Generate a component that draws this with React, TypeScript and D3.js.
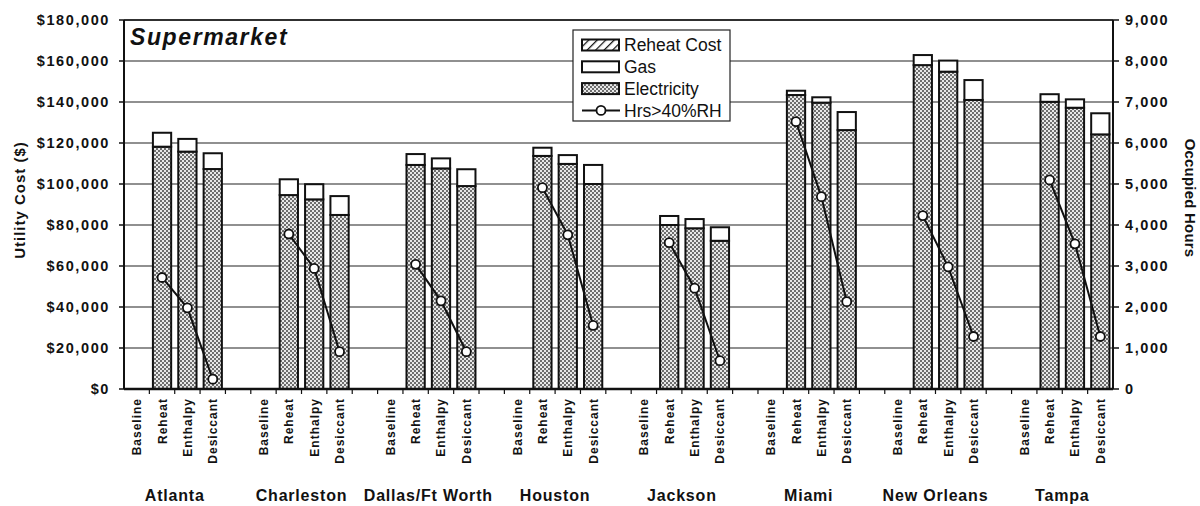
import React from "react";
import * as d3 from "d3";

// Annual utility cost per humidity-control strategy, supermarket building
const cities = ["Atlanta", "Charleston", "Dallas/Ft Worth", "Houston", "Jackson", "Miami", "New Orleans", "Tampa"];
const methods = ["Baseline", "Reheat", "Enthalpy", "Desiccant"];

// [Baseline, Reheat, Enthalpy, Desiccant] per city, dollars
const electricity = [
  [0, 118200, 115800, 107300],
  [0, 94600, 92500, 84900],
  [0, 109300, 107600, 99000],
  [0, 113700, 109800, 100000],
  [0, 80000, 78400, 72300],
  [0, 143400, 139700, 126300],
  [0, 158000, 154800, 141000],
  [0, 140100, 137200, 124200],
];
const reheatCost = [
  [0, 0, 0, 0],
  [0, 0, 0, 0],
  [0, 0, 0, 0],
  [0, 0, 0, 0],
  [0, 0, 0, 0],
  [0, 0, 0, 0],
  [0, 0, 0, 0],
  [0, 0, 0, 0],
];
const gas = [
  [0, 6800, 6200, 7700],
  [0, 7700, 7400, 9200],
  [0, 5300, 4900, 8200],
  [0, 4000, 4300, 9300],
  [0, 4400, 4500, 6600],
  [0, 2100, 2600, 8800],
  [0, 4900, 5400, 9700],
  [0, 3700, 4100, 10300],
];
// occupied hours above 40% relative humidity
const hoursOver40 = [
  [null, 2720, 1980, 240],
  [null, 3780, 2940, 910],
  [null, 3040, 2150, 910],
  [null, 4910, 3760, 1550],
  [null, 3570, 2460, 690],
  [null, 6520, 4690, 2130],
  [null, 4230, 2980, 1280],
  [null, 5100, 3540, 1280],
];

const costTicks = [0, 20000, 40000, 60000, 80000, 100000, 120000, 140000, 160000, 180000];
const hourTicks = [0, 1000, 2000, 3000, 4000, 5000, 6000, 7000, 8000, 9000];

const FONT = "'Liberation Sans', Arial, sans-serif";

export default function App() {
  const W = 1200;
  const H = 506;
  const left = 124;
  const right = 1113;
  const top = 20;
  const bottom = 389;

  // one slot per strategy, with an empty slot between cities
  const slots: string[] = [];
  cities.forEach((c, i) => {
    methods.forEach((m) => slots.push(`${c}|${m}`));
    if (i < cities.length - 1) slots.push(`gap${i}`);
  });

  const x = d3.scaleBand<string>().domain(slots).range([left, right]).paddingInner(0.28).paddingOuter(0.14);
  const step = x.step();
  const slotLeft = (k: string) => (x(k) as number) - step * 0.14;
  const center = (k: string) => (x(k) as number) + x.bandwidth() / 2;

  const y = d3.scaleLinear().domain([0, 180000]).range([bottom, top]);
  const y2 = d3.scaleLinear().domain([0, 9000]).range([bottom, top]);

  const fmtCost = (v: number) => "$" + d3.format(",")(v);
  const fmtHour = d3.format(",");

  type Bar = { key: string; elec: number; reheat: number; gas: number };
  const bars: Bar[] = [];
  const points: { key: string; v: number | null }[] = [];
  cities.forEach((c, i) => {
    methods.forEach((m, j) => {
      const key = `${c}|${m}`;
      bars.push({ key, elec: electricity[i][j], reheat: reheatCost[i][j], gas: gas[i][j] });
      points.push({ key, v: hoursOver40[i][j] });
    });
    if (i < cities.length - 1) points.push({ key: `gap${i}`, v: null });
  });

  const line = d3
    .line<{ key: string; v: number | null }>()
    .defined((d) => d.v !== null)
    .x((d) => center(d.key))
    .y((d) => y2(d.v as number));

  const legendX = 573;
  const legendY = 30;
  const legendItems = ["Reheat Cost", "Gas", "Electricity", "Hrs>40%RH"];

  return (
    <svg width={W} height={H} style={{ display: "block", position: "absolute", left: 0, top: 0, background: "#fff" }}>
      <defs>
        <pattern id="dots" width="4" height="4" patternUnits="userSpaceOnUse">
          <rect width="4" height="4" fill="#e8e8e8" />
          <circle cx="1" cy="1" r="0.95" fill="#3a3a3a" />
          <circle cx="3" cy="3" r="0.95" fill="#3a3a3a" />
        </pattern>
        <pattern id="hatch" width="6" height="6" patternUnits="userSpaceOnUse" patternTransform="rotate(45)">
          <rect width="6" height="6" fill="#fff" />
          <line x1="0" y1="0" x2="0" y2="6" stroke="#111" strokeWidth="2.5" />
        </pattern>
      </defs>

      {/* gridlines */}
      {costTicks.map((t) => (
        <line key={`g${t}`} x1={left} x2={right} y1={y(t)} y2={y(t)} stroke="#222" strokeWidth={1.2} />
      ))}

      {/* stacked bars */}
      {bars
        .filter((b) => b.elec + b.reheat + b.gas > 0)
        .map((b) => {
          const bx = x(b.key) as number;
          const bw = x.bandwidth();
          const y0 = y(0);
          const yE = y(b.elec);
          const yR = y(b.elec + b.reheat);
          const yG = y(b.elec + b.reheat + b.gas);
          return (
            <g key={b.key}>
              <rect x={bx} y={yE} width={bw} height={y0 - yE} fill="url(#dots)" stroke="#111" strokeWidth={2} />
              {b.reheat > 0 && (
                <rect x={bx} y={yR} width={bw} height={yE - yR} fill="url(#hatch)" stroke="#111" strokeWidth={2} />
              )}
              <rect x={bx} y={yG} width={bw} height={yR - yG} fill="#fff" stroke="#111" strokeWidth={2} />
            </g>
          );
        })}

      {/* humidity hours line */}
      <path d={line(points) || ""} fill="none" stroke="#111" strokeWidth={2} />
      {points
        .filter((p) => p.v !== null)
        .map((p) => (
          <circle key={`c${p.key}`} cx={center(p.key)} cy={y2(p.v as number)} r={4.5} fill="#fff" stroke="#111" strokeWidth={1.8} />
        ))}

      {/* frame */}
      <line x1={left} x2={left} y1={top} y2={bottom} stroke="#111" strokeWidth={2} />
      <line x1={right} x2={right} y1={top} y2={bottom} stroke="#111" strokeWidth={2} />
      <line x1={left} x2={right} y1={bottom} y2={bottom} stroke="#111" strokeWidth={2.5} />
      <line x1={left} x2={right} y1={top} y2={top} stroke="#111" strokeWidth={1.5} />

      {/* left axis */}
      {costTicks.map((t) => (
        <g key={`l${t}`}>
          <line x1={left - 5} x2={left} y1={y(t)} y2={y(t)} stroke="#111" strokeWidth={1.5} />
          <text x={110} y={y(t)} dy="0.36em" textAnchor="end" fontFamily={FONT} fontWeight="bold" fontSize={14.5} letterSpacing={1.6} fill="#111">
            {fmtCost(t)}
          </text>
        </g>
      ))}
      <text transform={`translate(25,200) rotate(-90)`} textAnchor="middle" fontFamily={FONT} fontWeight="bold" fontSize={15} letterSpacing={1} fill="#111">
        Utility Cost ($)
      </text>

      {/* right axis */}
      {hourTicks.map((t) => (
        <g key={`r${t}`}>
          <line x1={right} x2={right + 6} y1={y2(t)} y2={y2(t)} stroke="#111" strokeWidth={1.5} />
          <text x={1125} y={y2(t)} dy="0.36em" textAnchor="start" fontFamily={FONT} fontWeight="bold" fontSize={14.5} letterSpacing={1.6} fill="#111">
            {fmtHour(t)}
          </text>
        </g>
      ))}
      <text transform={`translate(1185,198) rotate(90)`} textAnchor="middle" fontFamily={FONT} fontWeight="bold" fontSize={15} letterSpacing={0.2} fill="#111">
        Occupied Hours
      </text>

      {/* category ticks and labels */}
      {slots.map((k, i) => (
        <line key={`t${k}`} x1={slotLeft(k)} x2={slotLeft(k)} y1={bottom} y2={bottom + 5} stroke="#111" strokeWidth={1.2} opacity={i === 0 ? 0 : 1} />
      ))}
      {bars.map((b) => {
        const m = b.key.split("|")[1];
        return (
          <text key={`m${b.key}`} transform={`translate(${center(b.key) + 4.5},398) rotate(-90)`} textAnchor="end" fontFamily={FONT} fontWeight="bold" fontSize={12} letterSpacing={1} fill="#111">
            {m}
          </text>
        );
      })}
      {cities.map((c) => {
        const cx = (center(`${c}|Baseline`) + center(`${c}|Desiccant`)) / 2;
        return (
          <text key={`city${c}`} x={cx} y={501} textAnchor="middle" fontFamily={FONT} fontWeight="bold" fontSize={16} letterSpacing={0.8} fill="#111">
            {c}
          </text>
        );
      })}

      {/* title */}
      <text x={130} y={45} fontFamily={FONT} fontWeight="bold" fontStyle="italic" fontSize={23} letterSpacing={1.6} fill="#111">
        Supermarket
      </text>

      {/* legend */}
      <rect x={legendX} y={legendY} width={157} height={91} fill="#fff" stroke="#222" strokeWidth={1.2} />
      {legendItems.map((name, i) => {
        const cy = legendY + 15 + i * 21.8;
        return (
          <g key={name}>
            {i === 0 && <rect x={582} y={cy - 5.5} width={37} height={11} fill="url(#hatch)" stroke="#111" strokeWidth={2} />}
            {i === 1 && <rect x={582} y={cy - 5.5} width={37} height={11} fill="#fff" stroke="#111" strokeWidth={2} />}
            {i === 2 && <rect x={582} y={cy - 5.5} width={37} height={11} fill="url(#dots)" stroke="#111" strokeWidth={2} />}
            {i === 3 && (
              <g>
                <line x1={582} x2={620} y1={cy} y2={cy} stroke="#111" strokeWidth={2} />
                <circle cx={601} cy={cy} r={4.5} fill="#fff" stroke="#111" strokeWidth={1.8} />
              </g>
            )}
            <text x={624} y={cy} dy="0.36em" fontFamily={FONT} fontSize={17.5} fill="#111">
              {name}
            </text>
          </g>
        );
      })}
    </svg>
  );
}
